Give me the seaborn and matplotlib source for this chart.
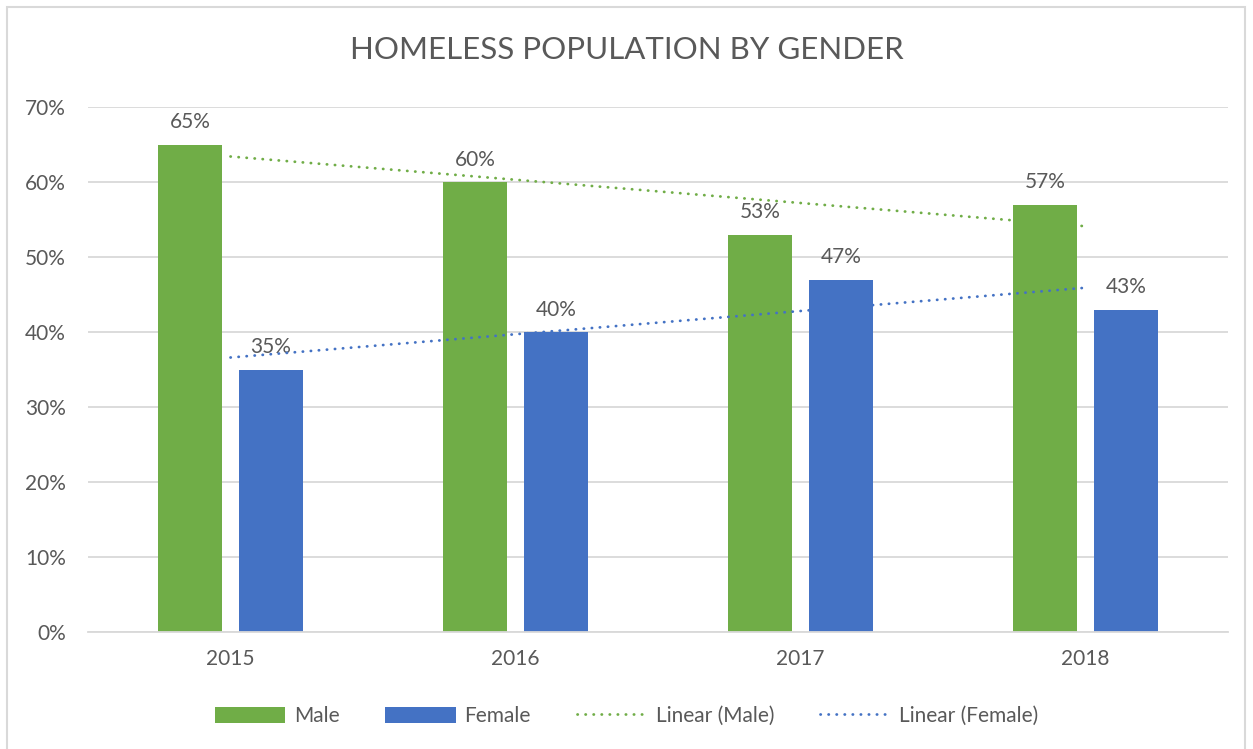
import numpy as np
import pandas as pd
import matplotlib
matplotlib.use("Agg")
import matplotlib.pyplot as plt
from matplotlib.patches import Rectangle, Patch
from matplotlib.lines import Line2D
import seaborn as sns

years = ["2015", "2016", "2017", "2018"]
male = [65, 60, 53, 57]
female = [35, 40, 47, 43]
series_names = ["Male", "Female"]
colors = {"Male": "#70AD47", "Female": "#4472C4"}
yticks = [0, 10, 20, 30, 40, 50, 60, 70]
title = "HOMELESS POPULATION BY GENDER"

df = pd.DataFrame({
    "Year": years * 2,
    "Value": male + female,
    "Gender": ["Male"] * 4 + ["Female"] * 4,
})

sns.set_theme(style="white")
plt.rcParams["font.family"] = ["Lato", "DejaVu Sans"]
txt = "#595959"
fs = 15

fig = plt.figure(figsize=(12.53, 7.49), dpi=100)
ax = fig.add_axes([88 / 1253, 1 - 632 / 749, (1228 - 88) / 1253, (632 - 107) / 749])

sns.barplot(data=df, x="Year", y="Value", hue="Gender", hue_order=series_names,
            palette=colors, width=0.568, gap=0.21, ax=ax, legend=False,
            saturation=1, edgecolor="none", linewidth=0)

for cont in ax.containers:
    ax.bar_label(cont, labels=[f"{v:.0f}%" for v in cont.datavalues],
                 padding=9, fontsize=fs, color=txt)

xs = np.arange(len(years))
for name, vals in (("Male", male), ("Female", female)):
    k, b = np.polyfit(xs + 1, vals, 1)
    ax.plot(xs, k * (xs + 1) + b, color=colors[name], lw=2.0,
            linestyle=(0, (0.1, 2.8)), dash_capstyle="round", zorder=5)

ax.set_ylim(0, 70)
ax.set_xlim(-0.5, 3.5)
ax.set_yticks(yticks)
ax.set_yticklabels([f"{t}%" for t in yticks], fontsize=fs, color=txt)
ax.set_xticks(xs)
ax.set_xticklabels(years, fontsize=fs, color=txt)
ax.tick_params(axis="y", length=0, pad=16)
ax.tick_params(axis="x", length=0, pad=12)
ax.set_xlabel("")
ax.set_ylabel("")
ax.yaxis.grid(True, color="#D9D9D9", lw=1.3)
ax.set_axisbelow(True)
for s in ("top", "right", "left"):
    ax.spines[s].set_visible(False)
ax.spines["bottom"].set_color("#D9D9D9")
ax.spines["bottom"].set_linewidth(1.3)

fig.text(0.5, 1 - 50 / 749, title, ha="center", va="center", fontsize=22.5, color=txt)

handles = [
    Patch(facecolor=colors["Male"], edgecolor="none"),
    Patch(facecolor=colors["Female"], edgecolor="none"),
    Line2D([0], [0], color=colors["Male"], lw=2.0, linestyle=(0, (0.1, 2.8)), dash_capstyle="round"),
    Line2D([0], [0], color=colors["Female"], lw=2.0, linestyle=(0, (0.1, 2.8)), dash_capstyle="round"),
]
labels = ["Male", "Female", "Linear (Male)", "Linear (Female)"]
leg = fig.legend(handles, labels, loc="center", bbox_to_anchor=(0.5, 1 - 716 / 749), ncol=4,
                 frameon=False, fontsize=fs, handlelength=3.4, handleheight=0.8,
                 handletextpad=0.4, columnspacing=2.2)
for t in leg.get_texts():
    t.set_color(txt)

fig.patches.append(Rectangle((7 / 1253, -0.02), (1245 - 7) / 1253, 1 - 7 / 749 + 0.02,
                             transform=fig.transFigure, fill=False, edgecolor="#D9D9D9", lw=1.5))

fig.savefig("out.png", dpi=100)
